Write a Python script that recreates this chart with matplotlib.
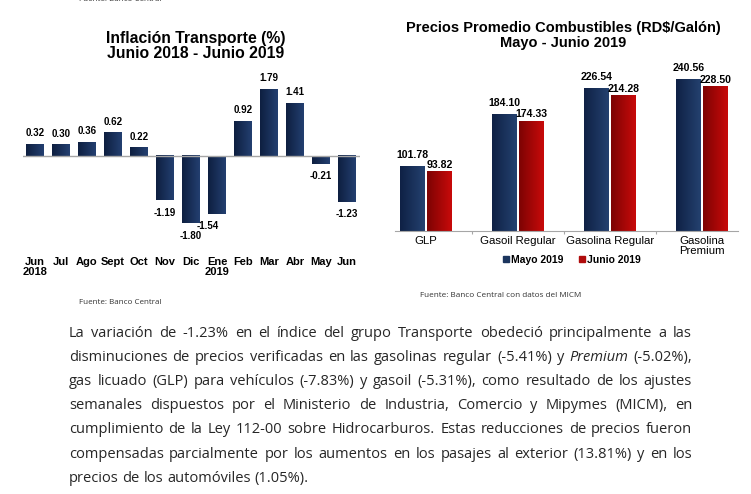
import numpy as np
import matplotlib
matplotlib.use("Agg")
import matplotlib.pyplot as plt
from matplotlib.colors import LinearSegmentedColormap
from matplotlib.patches import Patch

# data
months = ["Jun\n2018", "Jul", "Ago", "Sept", "Oct", "Nov", "Dic", "Ene\n2019",
          "Feb", "Mar", "Abr", "May", "Jun"]
inflacion = [0.32, 0.30, 0.36, 0.62, 0.22, -1.19, -1.80, -1.54, 0.92, 1.79, 1.41, -0.21, -1.23]

combustibles = ["GLP", "Gasoil Regular", "Gasolina Regular", "Gasolina\nPremium"]
mayo_2019 = [101.78, 184.10, 226.54, 240.56]
junio_2019 = [93.82, 174.33, 214.28, 228.50]

parrafo = [
    "La variación de -1.23% en el índice del grupo Transporte obedeció principalmente a las",
    "disminuciones de precios verificadas en las gasolinas regular (-5.41%) y Premium (-5.02%),",
    "gas licuado (GLP) para vehículos (-7.83%) y gasoil (-5.31%), como resultado de los ajustes",
    "semanales dispuestos por el Ministerio de Industria, Comercio y Mipymes (MICM), en",
    "cumplimiento de la Ley 112-00 sobre Hidrocarburos. Estas reducciones de precios fueron",
    "compensadas parcialmente por los aumentos en los pasajes al exterior (13.81%) y en los",
    "precios de los automóviles (1.05%).",
]
cursiva = {"Premium"}

W, H = 751, 494
plt.rcParams['font.family'] = ['Liberation Sans', 'DejaVu Sans']
fig = plt.figure(figsize=(W / 100, H / 100), dpi=100)


def box(x0, y0, x1, y1):
    return [x0 / W, 1 - y1 / H, (x1 - x0) / W, (y1 - y0) / H]


def shade(ax, bars, c0, c1):
    cmap = LinearSegmentedColormap.from_list("g", [c0, c1])
    grad = np.linspace(0, 1, 64).reshape(1, -1)
    for b in bars:
        x, y, w, h = b.get_x(), b.get_y(), b.get_width(), b.get_height()
        ax.imshow(grad, extent=(x, x + w, y, y + h), cmap=cmap, aspect='auto',
                  interpolation='bilinear', zorder=2)
        b.set_alpha(0)


# ---- Inflacion Transporte
ax1 = fig.add_axes(box(23, 73.7, 360, 242))
xs = np.arange(len(months))
bars = ax1.bar(xs, inflacion, width=0.69, color='#1a3460', zorder=2)
shade(ax1, bars, '#0e1f40', '#233f70')
ax1.axhline(0, color='#a6a6a6', lw=1.0, zorder=3)
for x, v in zip(xs, inflacion):
    dx = -7 if months[x].startswith("Ene") else 0
    dy = 8 if v >= 0 else -9
    ax1.annotate(f"{v:.2f}", (x, v), xytext=(dx, dy), textcoords='offset points',
                 ha='center', va='center', fontsize=7, fontweight='bold')
ax1.set_xlim(-0.4615, 12.5)
ax1.set_ylim(-2.3, 2.2)
ax1.set_xticks(xs)
ax1.set_xticklabels(months, fontsize=8, fontweight='bold', linespacing=1.1)
ax1.tick_params(axis='x', length=0, pad=10.5)
ax1.set_yticks([])
for s in ax1.spines.values():
    s.set_visible(False)
ax1.patch.set_alpha(0)

fig.text(195.5 / W, 1 - 38 / H, "Inflación Transporte (%)", ha='center', va='center',
         fontsize=11.3, fontweight='bold')
fig.text(195.5 / W, 1 - 53 / H, "Junio 2018 - Junio 2019", ha='center', va='center',
         fontsize=11.3, fontweight='bold')
fig.text(79 / W, 1 - 303 / H, "Fuente: Banco Central", ha='left', va='center',
         fontsize=5.8, color='#333333', family=['Open Sans', 'DejaVu Sans'])
fig.text(79 / W, 1 + 0.5 / H, "Fuente: Banco Central", ha='left', va='center',
         fontsize=5.8, color='#333333', family=['Open Sans', 'DejaVu Sans'])

# ---- Precios combustibles
ax2 = fig.add_axes(box(395, 60.4, 738, 230.7))
xc = np.arange(len(combustibles))
bw = 0.27
b1 = ax2.bar(xc - 0.146, mayo_2019, width=bw, color='#1c355e', zorder=2)
b2 = ax2.bar(xc + 0.146, junio_2019, width=bw, color='#b00c0c', zorder=2)
shade(ax2, b1, '#0f2145', '#24416f')
shade(ax2, b2, '#7d0303', '#c80a0a')
for x, v in zip(xc, mayo_2019):
    ax2.annotate(f"{v:.2f}", (x - 0.146, v), xytext=(0, 8), textcoords='offset points',
                 ha='center', va='center', fontsize=7.6, fontweight='bold')
for x, v in zip(xc, junio_2019):
    ax2.annotate(f"{v:.2f}", (x + 0.146, v), xytext=(0, 4.8), textcoords='offset points',
                 ha='center', va='center', fontsize=7.6, fontweight='bold')
ax2.set_xlim(-0.337, 3.39)
ax2.set_ylim(0, 270)
ax2.set_xticks(xc)
ax2.set_xticklabels(combustibles, fontsize=8.2, linespacing=1.1)
ax2.set_xticks([0.5, 1.5, 2.5], minor=True)
ax2.tick_params(axis='x', which='major', length=0, pad=3.5)
ax2.tick_params(axis='x', which='minor', length=2.5, color='#a6a6a6', width=0.8)
ax2.set_yticks([])
for k, s in ax2.spines.items():
    s.set_visible(k == 'bottom')
ax2.spines['bottom'].set_color('#a6a6a6')
ax2.patch.set_alpha(0)

fig.legend(handles=[Patch(color='#1c355e', label='Mayo 2019'),
                    Patch(color='#b00c0c', label='Junio 2019')],
           loc='center', bbox_to_anchor=(572 / W, 1 - 259.5 / H), ncol=2,
           frameon=False, prop={'size': 7.5, 'weight': 'bold'},
           handlelength=0.55, handleheight=0.6, handletextpad=0.2,
           columnspacing=1.5, borderpad=0, borderaxespad=0)

fig.text(563 / W, 1 - 28.3 / H, "Precios Promedio Combustibles (RD$/Galón)", ha='center',
         va='center', fontsize=10.5, fontweight='bold')
fig.text(563 / W, 1 - 43.3 / H, "Mayo - Junio 2019", ha='center', va='center',
         fontsize=10.5, fontweight='bold')
fig.text(420 / W, 1 - 295 / H, "Fuente: Banco Central con datos del MICM", ha='left',
         va='center', fontsize=5.9, color='#333333', family=['Open Sans', 'DejaVu Sans'])

# ---- justified paragraph
renderer = fig.canvas.get_renderer()
x_left, x_right = 69, 692
pfam = ['Open Sans', 'DejaVu Sans']


def width_of(s, size, style='normal'):
    t = fig.text(0, 0, s, fontsize=size, family=pfam, style=style)
    w = t.get_window_extent(renderer).width
    t.remove()
    return w


# fit the font so the tightest line (line 2) fills the column
size = 9.5
size *= (x_right - x_left - 4) / width_of(parrafo[1], size)
space_w = width_of("a a", size) - width_of("aa", size)

for i, line in enumerate(parrafo):
    y = 1 - (337 + 24.1 * i) / H
    words = line.split(" ")
    texts = [fig.text(0, y, w, ha='left', va='baseline', fontsize=size, family=pfam,
                      color='#262626', style='italic' if w in cursiva else 'normal')
             for w in words]
    widths = [t.get_window_extent(renderer).width for t in texts]
    if i == len(parrafo) - 1:
        gap = space_w
    else:
        gap = (x_right - x_left - sum(widths)) / (len(words) - 1)
    x = x_left
    for t, w in zip(texts, widths):
        t.set_x(x / W)
        x += w + gap

fig.savefig("out.png", dpi=100)
